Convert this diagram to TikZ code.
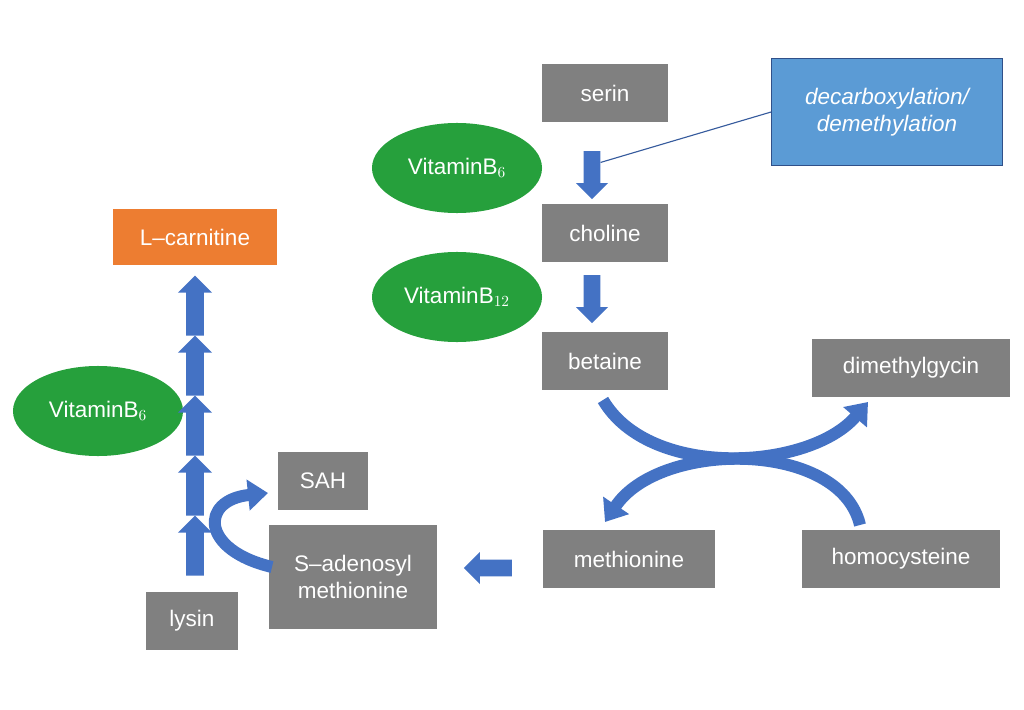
\documentclass[tikz,border=0pt]{standalone}
\usepackage{fontspec}
\setmainfont{Liberation Sans}
\usetikzlibrary{shapes.geometric,shapes.arrows,arrows.meta}
\definecolor{boxgray}{RGB}{128,128,128}
\definecolor{arrowblue}{RGB}{68,114,196}
\definecolor{vitgreen}{RGB}{38,160,60}
\definecolor{carnorange}{RGB}{237,125,49}
\definecolor{notebblue}{RGB}{91,155,213}

\begin{document}
\begin{tikzpicture}[
    x=0.025cm, y=-0.025cm,
    metab/.style={rectangle, fill=boxgray, text=white, minimum height=1.43cm, font=\fontsize{16}{19}\selectfont},
    vitamin/.style={ellipse, fill=vitgreen, text=white, minimum width=4.25cm, minimum height=2.25cm, font=\fontsize{16}{19}\selectfont},
    blockarrow/.style={single arrow, fill=arrowblue, minimum width=0.8cm, minimum height=1.2cm, single arrow head extend=0.1cm, inner sep=0.1cm},
    curvearrow/.style={draw=arrowblue, line width=0.3cm, -{Triangle[length=0.5cm, width=0.75cm]}}
]
\useasboundingbox (0,0) rectangle (1024,709);

% metabolites
\node[metab, minimum width=3.13cm] (serin) at (605,93) {serin};
\node[metab, minimum width=3.13cm] (choline) at (605,233) {choline};
\node[metab, minimum width=3.13cm] (betaine) at (605,361) {betaine};
\node[metab, minimum width=4.95cm] (dmg) at (911,368) {dimethylgycin};
\node[metab, minimum width=4.3cm] (methionine) at (629,559) {methionine};
\node[metab, minimum width=4.95cm] (homocys) at (901,559) {homocysteine};
\node[metab, minimum width=4.18cm, minimum height=2.6cm, align=center] (sam) at (353,577) {S--adenosyl\\methionine};
\node[metab, minimum width=2.25cm] (sah) at (323,481) {SAH};
\node[metab, minimum width=2.3cm] (lysin) at (192,621) {lysin};
\node[metab, fill=carnorange, minimum width=4.08cm, minimum height=1.38cm] (carnitine) at (195,237) {L--carnitine};

% vitamins
\node[vitamin] (vitb6) at (457,168) {VitaminB$_6$};
\node[vitamin] (vitb12) at (457,297) {VitaminB$_{12}$};
\node[vitamin] (vitb6l) at (98,411) {VitaminB$_6$};

% note
\node[rectangle, fill=notebblue, draw=arrowblue!70!black, text=white, minimum width=5.78cm, minimum height=2.68cm, align=center, font=\fontsize{16}{19}\selectfont\itshape] (note) at (887,112) {decarboxylation/\\demethylation};

% straight arrows
\node[blockarrow, rotate=-90] (arrsc) at (592,171) {};
\node[blockarrow, rotate=-90] (arrcb) at (592,295) {};
\node[blockarrow, rotate=180] (arrms) at (492,568) {};
\foreach \y [count=\i] in {550,490,430,370,310}
  \node[blockarrow, rotate=90, minimum height=1.5cm, minimum width=0.85cm] (lys\i) at (195,\y) {};

\draw[arrowblue!80!black, thick] (note.west) -- (arrsc.north west);

% curved arrows
\coordinate (bstart) at (603,400);
\coordinate (dend) at (868,402);
\coordinate (hstart) at (860,525);
\coordinate (mend) at (605,522);
\draw[curvearrow] (bstart) .. controls (650,480) and (810,470) .. (dend);
\draw[curvearrow] (hstart) .. controls (840,440) and (660,440) .. (mend);
\coordinate (samstart) at (272,567);
\coordinate (sahend) at (268,493);
\draw[curvearrow] (samstart) .. controls (200,550) and (200,500) .. (sahend);
\end{tikzpicture}
\end{document}
